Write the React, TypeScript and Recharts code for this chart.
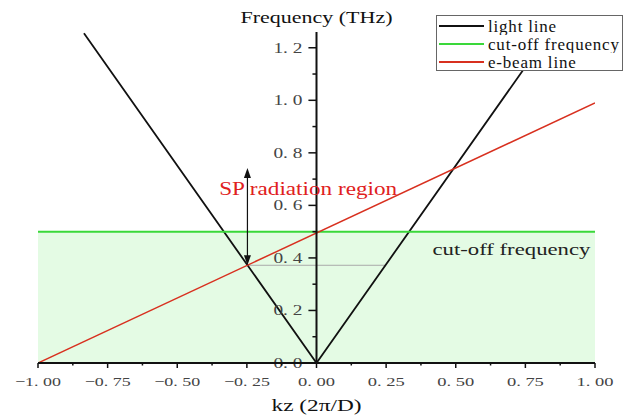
import React from 'react';
import { LineChart, Line, XAxis, YAxis, ReferenceArea, ReferenceLine, ReferenceDot, Legend } from 'recharts';

// light line (V shape), cut-off frequency and e-beam line
const lightKz = [-0.835, 0, 0.835];
const lightFreq = [1.255, 0, 1.255];
const cutoffKz = [-1, 1];
const cutoffFreq = [0.5, 0.5];
const beamKz = [-1, 1];
const beamFreq = [0, 0.99];

const seriesNames = ['light line', 'cut-off frequency', 'e-beam line'];

const xMajorTicks = [-1, -0.75, -0.5, -0.25, 0, 0.25, 0.5, 0.75, 1];
const xMinorTicks = [-0.875, -0.625, -0.375, -0.125, 0.125, 0.375, 0.625, 0.875];
const xTickLabels = ['−1. 00', '−0. 75', '−0. 50', '−0. 25', '0. 00', '0. 25', '0. 50', '0. 75', '1. 00'];
const yMajorTicks = [0, 0.2, 0.4, 0.6, 0.8, 1.0, 1.2];
const yMinorTicks = [0.1, 0.3, 0.5, 0.7, 0.9, 1.1];
const yTickLabels = ['0. 0', '0. 2', '0. 4', '0. 6', '0. 8', '1. 0', '1. 2'];

// where the light line meets the e-beam line
const lowCross = { kz: -0.248, freq: 0.372 };
const highCrossFreq = 0.742;

const SERIF = "'Liberation Serif', 'Times New Roman', serif";

const toRows = (xs: number[], ys: number[]) => xs.map((kz, i) => ({ kz, f: ys[i] }));

const StretchText = ({ x, y, w, size, fill = '#111', anchor = 'middle', children }: any) => (
    <text x={x} y={y} fontSize={size} fill={fill} fontFamily={SERIF} textAnchor={anchor}
        textLength={w} lengthAdjust="spacingAndGlyphs">{children}</text>
);

const XTick = ({ x, y, payload }: any) => {
    const idx = xMajorTicks.indexOf(payload.value);
    const major = idx >= 0;
    return (
        <g>
            <line x1={x} x2={x} y1={y} y2={y + (major ? 5 : 2.5)} stroke="#111" strokeWidth={1.5} />
            {major && (
                <StretchText x={x} y={y + 23} w={payload.value < 0 ? 46 : 37} size={13} fill="#444">
                    {xTickLabels[idx]}
                </StretchText>
            )}
        </g>
    );
};

const ArrowShape = (p: any) => {
    const top = Math.min(p.y1, p.y2);
    const bot = Math.max(p.y1, p.y2);
    const x = p.x1;
    return (
        <g>
            <line x1={x} x2={x} y1={top + 6} y2={bot - 6} stroke="#111" strokeWidth={1.2} />
            <polygon points={`${x},${top} ${x - 3.5},${top + 10} ${x + 3.5},${top + 10}`} fill="#111" />
            <polygon points={`${x},${bot} ${x - 3.5},${bot - 10} ${x + 3.5},${bot - 10}`} fill="#111" />
        </g>
    );
};

const LegendBox = ({ payload }: any) => {
    const items = [...(payload || [])].sort((a: any, b: any) => seriesNames.indexOf(a.value) - seriesNames.indexOf(b.value));
    return (
        <div style={{ boxSizing: 'border-box', width: 187, height: 56, border: '1px solid #666', background: '#fff', paddingLeft: 1, paddingTop: 1, fontFamily: SERIF, fontSize: 17, letterSpacing: 0.8, color: '#111' }}>
            {items.map((e: any) => (
                <div key={e.value} style={{ height: 18, lineHeight: '18px', display: 'flex', alignItems: 'center', overflow: 'hidden' }}>
                    <svg width={46} height={10}><line x1={1} x2={46} y1={5} y2={5} stroke={e.color} strokeWidth={2} /></svg>
                    <span style={{ marginLeft: 4, lineHeight: '17px' }}>{e.value}</span>
                </div>
            ))}
        </div>
    );
};

export default function App() {
    return (
        <div style={{ position: 'absolute', left: 0, top: 0, width: 630, height: 416, background: '#fff' }}>
            <LineChart width={630} height={416} margin={{ top: 32, right: 35, bottom: 13, left: 38 }}>
                <XAxis dataKey="kz" type="number" domain={[-1, 1]} allowDataOverflow
                    ticks={[...xMajorTicks, ...xMinorTicks].sort((a, b) => a - b)}
                    interval={0} tickSize={0} tickMargin={0} tickLine={false} tick={<XTick />}
                    axisLine={{ stroke: '#111', strokeWidth: 2 }} height={40}
                    label={(p: any) => (
                        <StretchText x={p.viewBox.x + p.viewBox.width / 2} y={p.viewBox.y + 48} w={90} size={17}>kz (2π/D)</StretchText>
                    )} />
                <YAxis type="number" domain={[0, 1.26]} allowDataOverflow hide width={0} />
                <ReferenceArea x1={-1} x2={1} y1={0} y2={0.5} fill="#e4fbe4" fillOpacity={1} stroke="none" />
                <ReferenceLine segment={[{ x: lowCross.kz, y: lowCross.freq }, { x: -lowCross.kz, y: lowCross.freq }]}
                    stroke="#aaa" strokeWidth={1} />
                <Legend layout="vertical" align="center" verticalAlign="middle" content={<LegendBox />}
                    wrapperStyle={{ left: 436, top: 15, width: 187, height: 56 }} />
                <Line data={toRows(lightKz, lightFreq)} dataKey="f" name={seriesNames[0]} stroke="#111" strokeWidth={1.8}
                    dot={false} isAnimationActive={false} />
                <Line data={toRows(cutoffKz, cutoffFreq)} dataKey="f" name={seriesNames[1]} stroke="#3ad83a" strokeWidth={2}
                    dot={false} isAnimationActive={false} />
                <Line data={toRows(beamKz, beamFreq)} dataKey="f" name={seriesNames[2]} stroke="#d8301f" strokeWidth={1.5}
                    dot={false} isAnimationActive={false} />
                <ReferenceLine x={0} stroke="#111" strokeWidth={2}
                    label={(p: any) => (
                        <StretchText x={p.viewBox.x} y={p.viewBox.y - 9} w={152} size={17}>Frequency (THz)</StretchText>
                    )} />
                {yMajorTicks.map((v, i) => (
                    <ReferenceLine key={'ym' + v} segment={[{ x: -0.029, y: v }, { x: 0, y: v }]} stroke="#111" strokeWidth={1.5}
                        label={(p: any) => (
                            <StretchText x={p.viewBox.x - 6} y={p.viewBox.y + 5} w={29} size={14} fill="#444" anchor="end">{yTickLabels[i]}</StretchText>
                        )} />
                ))}
                {yMinorTicks.map((v) => (
                    <ReferenceLine key={'yn' + v} segment={[{ x: -0.0145, y: v }, { x: 0, y: v }]} stroke="#111" strokeWidth={1.5} />
                ))}
                <ReferenceLine segment={[{ x: lowCross.kz, y: lowCross.freq }, { x: lowCross.kz, y: highCrossFreq }]}
                    shape={ArrowShape} />
                <ReferenceDot x={-0.03} y={0.64} r={1} fill="none" stroke="none"
                    label={(p: any) => (
                        <StretchText x={p.viewBox.x + p.viewBox.width / 2} y={p.viewBox.y + p.viewBox.height / 2} w={178} size={18} fill="#e02020">SP radiation region</StretchText>
                    )} />
                <ReferenceDot x={0.7} y={0.41} r={1} fill="none" stroke="none"
                    label={(p: any) => (
                        <StretchText x={p.viewBox.x + p.viewBox.width / 2} y={p.viewBox.y + p.viewBox.height / 2} w={158} size={17} fill="#222">cut-off frequency</StretchText>
                    )} />
            </LineChart>
        </div>
    );
}
